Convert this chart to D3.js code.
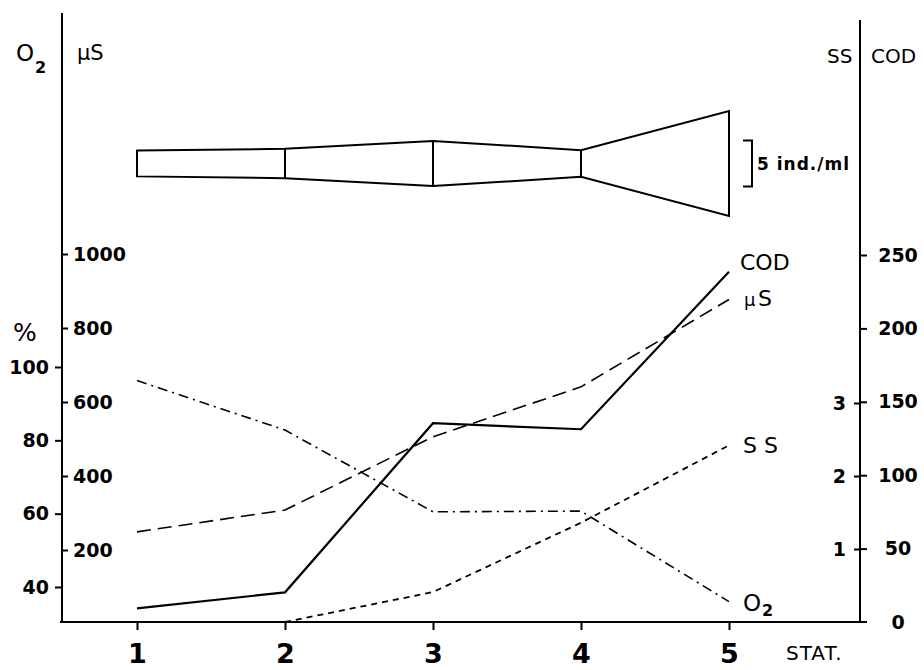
<!DOCTYPE html>
<html>
<head>
<meta charset="utf-8">
<script src="https://cdn.jsdelivr.net/npm/d3@7"></script>
<style>
  html, body { margin: 0; padding: 0; background: #fff; }
  svg { display: block; }
  .tick text { font-family: "DejaVu Sans", sans-serif; font-weight: bold; fill: #000; }
  .lab { font-family: "DejaVu Sans", sans-serif; fill: #000; }
</style>
</head>
<body>
<svg id="chart" width="924" height="670"></svg>
<script>
// ---- data ----
const stations = [1, 2, 3, 4, 5];
const codValues = [9.3, 20.2, 135.4, 131.3, 238.6];       // mg/l COD
const conductivityValues = [249, 308, 506, 641, 877];      // µS
const ssStations = [2, 3, 4, 5];
const ssValues = [0, 0.41, 1.36, 2.42];                    // SS
const o2Values = [96.3, 82.8, 60.5, 60.7, 36.0];           // O2 % saturation
const densityValues = [2.8, 3.2, 4.9, 2.9, 11.4];          // ind./ml (kite)
const pctTicks = [40, 60, 80, 100];
const usTicks = [200, 400, 600, 800, 1000];
const codTicks = [0, 50, 100, 150, 200, 250];
const ssTicks = [1, 2, 3];
const scaleBarValue = 5;

// ---- layout ----
const svg = d3.select("#chart");
const leftX = 62, rightX = 860, baseY = 622;
const fmt = d3.format("d");

const x = d3.scaleLinear().domain([1, 5]).range([137, 729]);
const yPct = d3.scaleLinear().domain([40, 100]).range([587, 367]);
const yUs = d3.scaleLinear().domain([0, 1000]).range([624, 254]);
const yCod = d3.scaleLinear().domain([0, 250]).range([622, 255]);
const ySS = d3.scaleLinear().domain([0, 3]).range([622, 403]);
const kiteCenter = 163.5;
const w = d3.scaleLinear().domain([0, 1]).range([0, 9.2]); // px per ind./ml (full width)

// axis lines
svg.append("line").attr("x1", leftX).attr("x2", leftX).attr("y1", 13).attr("y2", baseY)
  .attr("stroke", "#000").attr("stroke-width", 2);
svg.append("line").attr("x1", rightX).attr("x2", rightX).attr("y1", 20).attr("y2", baseY)
  .attr("stroke", "#000").attr("stroke-width", 2);
svg.append("line").attr("x1", 60).attr("x2", 867).attr("y1", baseY).attr("y2", baseY)
  .attr("stroke", "#000").attr("stroke-width", 2);

function styleAxis(g, fs) {
  g.select(".domain").remove();
  g.selectAll(".tick line").attr("stroke", "#000").attr("stroke-width", 2);
  g.selectAll(".tick text").style("font-size", fs + "px");
}

// % axis (left, outward)
const gPct = svg.append("g").attr("transform", `translate(${leftX},0)`)
  .call(d3.axisLeft(yPct).tickValues(pctTicks).tickSize(7).tickPadding(6).tickFormat(fmt));
styleAxis(gPct, 19);

// µS axis (left axis, inward)
const gUs = svg.append("g").attr("transform", `translate(${leftX},0)`)
  .call(d3.axisRight(yUs).tickValues(usTicks).tickSize(6).tickPadding(5).tickFormat(fmt));
styleAxis(gUs, 19);

// COD axis (right, outward)
const gCod = svg.append("g").attr("transform", `translate(${rightX},0)`)
  .call(d3.axisRight(yCod).tickValues(codTicks).tickSize(7).tickPadding(7).tickFormat(fmt));
styleAxis(gCod, 19);
gCod.selectAll(".tick text").attr("text-anchor", "middle").attr("x", 38);
gCod.selectAll(".tick").filter(d => d === 0).select("line").remove();

// SS axis (right axis, inward)
const gSS = svg.append("g").attr("transform", `translate(${rightX},0)`)
  .call(d3.axisLeft(ySS).tickValues(ssTicks).tickSize(6).tickPadding(8).tickFormat(fmt));
styleAxis(gSS, 19);

// station axis
const gX = svg.append("g").attr("transform", `translate(0,${baseY})`)
  .call(d3.axisBottom(x).tickValues(stations).tickSize(8).tickFormat(fmt));
styleAxis(gX, 27);
gX.selectAll(".tick text").attr("y", 41).attr("dy", 0);

// ---- lines ----
const lineCod = d3.line().x((d, i) => x(stations[i])).y(d => yCod(d));
const lineUs = d3.line().x((d, i) => x(stations[i])).y(d => yUs(d));
const lineO2 = d3.line().x((d, i) => x(stations[i])).y(d => yPct(d));
const lineSS = d3.line().x((d, i) => x(ssStations[i])).y(d => ySS(d));

svg.append("path").attr("d", lineO2(o2Values)).attr("fill", "none").attr("stroke", "#000")
  .attr("stroke-width", 1.6).attr("stroke-dasharray", "10,5,2,5");
svg.append("path").attr("d", lineSS(ssValues)).attr("fill", "none").attr("stroke", "#000")
  .attr("stroke-width", 1.8).attr("stroke-dasharray", "6,5");
svg.append("path").attr("d", lineUs(conductivityValues)).attr("fill", "none").attr("stroke", "#000")
  .attr("stroke-width", 1.6).attr("stroke-dasharray", "14,7");
svg.append("path").attr("d", lineCod(codValues)).attr("fill", "none").attr("stroke", "#000")
  .attr("stroke-width", 2.2);

// ---- kite diagram ----
const kTop = densityValues.map((v, i) => [x(stations[i]), kiteCenter - w(v) / 2]);
const kBot = densityValues.map((v, i) => [x(stations[i]), kiteCenter + w(v) / 2]);
const poly = kTop.concat(kBot.slice().reverse());
svg.append("path").attr("d", d3.line()(poly) + "Z").attr("fill", "none")
  .attr("stroke", "#000").attr("stroke-width", 2).attr("stroke-linejoin", "miter");
densityValues.forEach((v, i) => {
  svg.append("line").attr("x1", x(stations[i])).attr("x2", x(stations[i]))
    .attr("y1", kiteCenter - w(v) / 2).attr("y2", kiteCenter + w(v) / 2)
    .attr("stroke", "#000").attr("stroke-width", 2);
});
// scale bar
const sbX = 752, sbH = w(scaleBarValue);
svg.append("path")
  .attr("d", `M${sbX - 9},${kiteCenter - sbH / 2} H${sbX} V${kiteCenter + sbH / 2} H${sbX - 9}`)
  .attr("fill", "none").attr("stroke", "#000").attr("stroke-width", 2);
svg.append("text").attr("class", "lab").attr("x", 757).attr("y", kiteCenter + 6)
  .style("font-size", "17px").style("font-weight", "bold").style("letter-spacing", "1px")
  .text(scaleBarValue + " ind./ml");

// ---- labels ----
function label(txt, xx, yy, fs, extra) {
  const t = svg.append("text").attr("class", "lab").attr("x", xx).attr("y", yy)
    .style("font-size", fs + "px").text(txt);
  if (extra) extra(t);
  return t;
}
// headers
label("O", 16, 61, 23);
label("2", 35, 73, 16, t => t.style("font-weight", "bold"));
label("µS", 77, 60, 21);
label("SS", 827, 63, 20);
label("COD", 871, 63, 20);
// % unit
label("%", 13, 341, 25);
// line labels
label("COD", 740, 270, 22);
label("µ", 744, 306, 18);
label("S", 758, 306, 22);
label("S S", 743, 453, 22);
label("O", 743, 611, 23);
label("2", 762, 616, 16, t => t.style("font-weight", "bold"));
label("STAT.", 786, 660, 20, t => t.style("letter-spacing", "1px"));
</script>
</body>
</html>
